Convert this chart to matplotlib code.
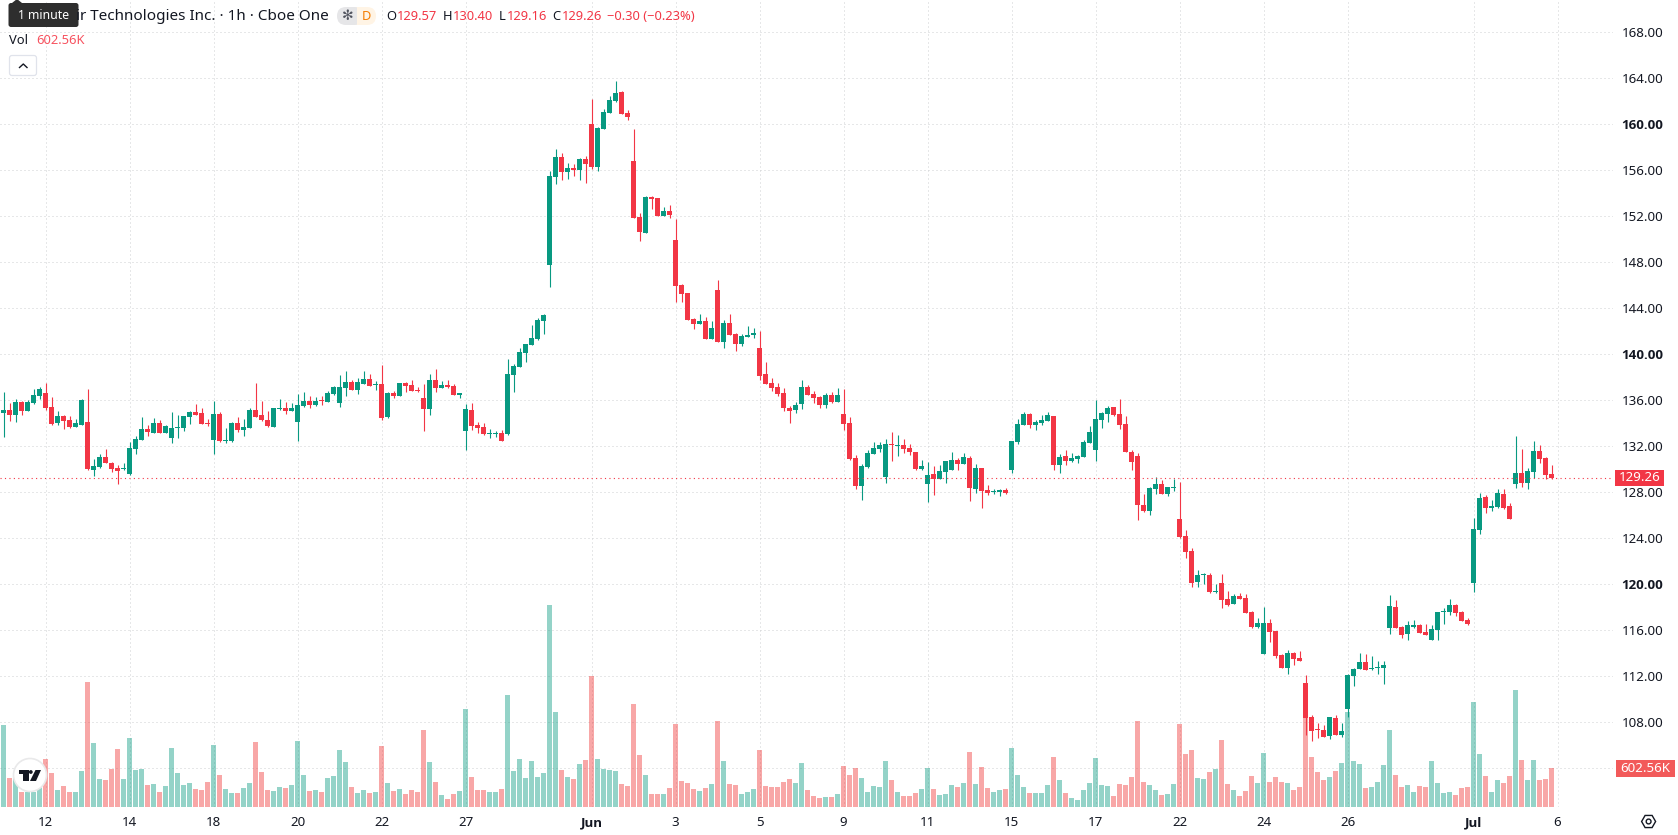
import numpy as np
import matplotlib
matplotlib.use("Agg")
import matplotlib.pyplot as plt
from matplotlib.patches import Circle, FancyBboxPatch, Polygon, Rectangle

open_prices = [
    134.90,135.16,134.73,135.86,135.07,135.77,136.38,136.64,135.42,134.03,
    134.64,134.29,133.68,133.86,134.12,129.94,130.20,131.07,130.55,130.12,
    130.00,129.60,131.77,132.55,133.51,133.16,134.03,133.16,132.73,133.62,
    133.60,134.55,134.99,134.90,134.03,132.55,134.81,132.50,132.47,134.03,
    133.42,133.60,135.16,134.73,134.29,133.68,135.25,135.34,135.07,134.12,
    135.51,135.94,135.60,136.03,135.86,136.55,135.77,137.08,137.60,136.90,
    137.42,137.86,137.36,137.42,134.55,136.64,136.38,137.51,137.34,136.90,
    136.20,135.25,137.77,137.08,137.34,137.25,136.47,133.33,135.16,133.86,
    133.68,133.10,133.10,133.16,133.07,138.20,138.90,140.12,140.81,141.34,
    142.90,147.77,155.42,157.16,155.86,156.21,156.03,156.99,160.03,156.29,
    159.60,160.99,162.03,162.82,160.99,156.82,151.95,150.55,153.68,153.60,
    152.03,152.47,149.95,146.03,145.34,143.07,142.64,142.90,141.34,145.60,
    141.07,142.73,141.77,140.90,141.51,141.72,140.55,138.29,137.51,137.16,
    136.64,135.33,135.16,135.68,137.16,136.55,136.29,135.60,136.46,135.86,
    134.81,134.03,130.99,128.55,130.20,131.33,131.77,129.33,132.20,132.03,
    132.12,131.86,131.51,130.03,128.73,129.59,129.16,129.77,129.94,130.81,
    130.47,130.99,128.29,130.12,128.20,128.04,128.03,128.20,129.94,132.38,
    133.86,134.81,133.86,134.03,134.20,134.64,130.38,131.16,130.73,130.90,
    131.07,132.29,131.68,134.29,134.81,135.42,134.81,133.94,131.51,131.16,
    126.90,126.38,128.29,128.73,127.86,128.40,125.68,124.20,122.90,120.20,
    120.78,120.81,119.33,120.11,118.72,118.29,118.98,118.81,117.59,116.29,
    113.94,116.64,115.94,113.85,112.72,114.03,113.59,111.42,108.46,107.35,
    107.33,106.81,108.37,106.90,109.16,112.03,112.63,113.24,112.63,112.72,
    112.72,116.20,118.03,116.29,115.68,116.33,116.46,115.85,115.16,116.03,
    117.62,117.59,118.20,117.59,116.90,120.11,124.72,127.59,126.64,126.72,
    127.85,126.81,128.72,129.68,128.81,129.77,131.59,130.98,129.57,
]
close_prices = [
    135.16,134.73,135.86,135.07,135.86,136.47,136.99,135.34,133.94,134.64,
    134.20,133.68,134.03,136.03,130.03,130.29,131.07,130.55,130.03,129.86,
    130.03,131.86,132.64,133.51,133.25,134.03,133.16,133.77,133.60,133.68,
    134.64,134.99,134.73,133.94,133.97,134.81,132.47,132.55,134.03,133.42,
    133.68,135.16,134.55,134.29,133.77,135.34,135.31,135.07,135.34,135.60,
    135.94,135.60,135.94,135.97,136.64,137.16,137.16,137.60,136.90,137.60,
    137.86,137.25,137.42,134.47,136.64,136.38,137.51,137.25,136.81,136.84,
    135.25,137.77,137.08,137.34,137.16,136.47,136.64,135.25,133.77,133.60,
    133.07,133.16,133.16,132.47,138.29,138.99,140.20,140.90,141.42,142.99,
    143.42,155.51,157.16,155.86,156.21,156.03,156.99,156.55,156.29,159.69,
    161.08,162.12,162.73,160.90,160.64,151.86,150.64,153.68,153.51,152.03,
    152.47,152.12,145.94,145.25,142.99,142.64,142.90,141.34,142.29,141.07,
    142.73,141.68,140.90,141.60,141.68,141.78,138.12,137.42,137.07,136.55,
    135.33,135.07,135.60,137.16,136.46,136.20,135.60,136.46,135.86,136.46,
    133.94,130.90,128.55,130.29,131.42,131.86,132.12,132.20,132.14,132.09,
    131.77,131.51,130.03,130.29,129.51,129.16,129.86,130.73,130.81,130.47,
    131.07,128.38,130.12,128.12,127.94,128.10,128.20,127.94,132.46,133.94,
    134.81,133.86,134.12,134.29,134.73,130.38,131.07,130.73,130.99,131.16,
    132.38,133.25,134.38,134.90,135.33,134.73,133.86,131.51,130.64,126.90,
    126.38,128.38,128.73,127.86,128.46,128.46,124.12,122.81,120.11,120.81,
    120.84,119.33,119.39,118.64,118.20,118.98,118.72,117.51,116.29,116.64,
    116.64,115.85,113.77,112.72,114.03,113.50,113.33,108.37,107.24,107.29,
    106.72,108.46,106.90,107.24,112.11,112.63,113.24,112.55,112.69,112.78,
    112.98,118.11,116.20,115.59,116.46,116.41,115.76,115.59,116.11,117.59,
    117.68,118.20,117.50,116.81,116.55,124.81,127.51,126.64,126.81,127.94,
    126.64,125.68,129.68,128.81,129.85,131.59,130.90,129.51,129.26,
]
high_prices = [
    136.73,135.77,136.12,135.94,136.03,136.99,137.16,137.51,136.29,135.07,
    134.73,134.64,134.38,136.12,136.99,130.90,131.33,131.77,130.64,130.38,
    130.55,132.38,132.90,134.55,133.86,134.47,134.29,133.86,134.99,134.73,
    134.64,135.07,135.68,135.34,134.38,135.94,134.99,133.60,134.12,134.55,
    134.38,135.34,137.51,135.94,135.07,135.34,136.12,135.86,135.77,136.55,
    136.73,136.38,136.29,136.38,136.81,137.25,138.21,138.55,137.77,137.94,
    138.55,138.29,137.68,139.08,136.73,136.81,137.51,137.60,137.77,137.16,
    137.42,138.29,138.73,137.68,137.77,137.42,136.64,135.68,135.77,134.12,
    134.03,133.51,133.33,133.42,139.60,139.16,140.55,140.90,142.55,143.16,
    143.51,155.95,157.86,157.51,156.64,156.55,157.08,157.25,162.21,159.77,
    161.34,162.47,163.77,162.90,161.25,159.60,152.29,153.77,153.77,153.60,
    152.82,152.99,151.77,146.12,145.34,143.16,143.51,143.25,142.90,146.47,
    142.99,143.51,141.86,141.77,142.47,142.29,142.03,139.33,137.94,137.51,
    137.07,135.51,135.86,137.77,137.33,136.81,136.38,136.64,136.73,137.07,
    136.99,134.55,131.25,130.47,131.68,132.38,132.38,132.64,133.25,132.99,
    132.64,132.20,131.51,130.81,130.64,130.29,130.38,130.73,131.51,130.99,
    131.42,131.16,130.47,130.12,128.64,128.29,128.29,128.38,132.46,134.38,
    134.99,134.90,134.29,134.73,134.99,134.64,131.33,131.68,131.42,131.25,
    132.55,133.77,136.03,134.99,135.51,135.42,136.12,134.64,131.68,131.42,
    127.86,128.46,129.33,129.07,128.46,129.16,128.90,124.72,123.16,121.25,
    120.98,120.98,120.03,120.90,119.42,119.16,119.24,119.16,117.68,117.07,
    118.03,116.98,115.94,113.94,114.29,114.11,114.20,112.11,108.63,107.94,
    107.76,108.46,108.63,107.94,112.20,112.72,114.03,113.94,113.77,113.33,
    113.33,119.07,118.64,116.37,116.81,116.90,116.55,116.55,116.46,117.59,
    117.94,118.72,118.29,117.68,117.07,125.77,127.94,127.77,127.33,128.29,
    128.29,127.07,132.90,131.77,130.11,132.46,132.11,131.07,130.40,
]
low_prices = [
    132.81,134.20,134.12,134.73,135.07,135.68,136.12,135.16,133.86,133.86,
    133.51,133.60,133.68,133.86,129.94,129.42,130.12,130.55,129.77,128.73,
    129.94,129.51,131.33,132.55,132.90,133.16,133.16,133.16,132.29,132.73,
    133.33,133.94,134.73,133.94,133.77,131.33,132.38,132.29,132.38,133.25,
    132.90,133.60,134.55,134.20,133.68,133.68,135.16,134.81,135.07,132.47,
    135.42,135.34,135.51,135.60,135.86,136.47,135.42,136.38,136.90,136.55,
    137.42,137.25,136.90,134.29,134.47,136.20,136.38,136.73,136.81,136.73,
    133.33,134.73,136.73,137.08,137.08,136.42,136.20,131.68,133.42,133.16,
    132.99,132.73,132.81,132.47,132.99,136.73,138.90,139.33,140.81,141.25,
    141.77,145.86,154.81,155.16,155.25,155.51,155.16,154.90,156.12,155.95,
    159.60,160.99,161.95,160.90,160.38,151.86,149.86,150.55,152.64,152.03,
    152.03,151.86,144.55,144.55,142.99,142.20,142.64,141.34,141.34,141.07,
    140.55,141.68,140.29,140.73,141.51,141.42,137.77,137.42,136.81,136.38,
    135.07,134.03,134.90,135.25,136.46,135.77,135.33,135.33,135.77,135.86,
    133.42,130.81,128.29,127.33,130.12,131.33,131.51,128.81,130.73,131.16,
    131.42,131.25,129.94,129.94,127.16,127.77,129.16,128.81,129.94,129.94,
    130.47,127.25,127.94,126.64,127.77,127.86,127.68,127.86,129.68,132.20,
    133.86,133.60,133.42,133.86,134.20,129.94,129.68,130.38,130.64,130.55,
    131.07,132.29,130.73,133.60,134.12,134.64,133.51,131.51,129.94,125.59,
    126.29,126.03,127.86,127.86,127.68,128.12,124.03,122.29,119.77,119.77,
    120.03,119.24,119.24,117.94,118.11,118.29,118.72,117.51,116.20,116.20,
    113.94,114.98,113.59,112.72,112.20,112.98,113.33,106.90,106.37,106.63,
    106.72,106.55,106.90,106.72,108.46,111.16,112.63,112.55,112.55,112.20,
    111.33,115.68,116.20,115.33,115.16,116.20,115.76,115.59,115.16,115.16,
    116.55,117.33,117.24,116.81,116.46,119.33,124.37,126.20,126.37,126.64,
    126.55,125.68,128.37,128.46,128.29,129.25,130.55,129.16,129.16,
]
volumes_k = [
    1278,452,447,234,234,234,343,748,530,265,
    327,234,234,561,1948,997,436,421,592,904,
    436,1075,577,592,343,358,234,327,919,530,
    343,374,280,265,390,966,499,280,218,218,
    296,374,1013,545,265,249,312,296,343,1028,
    499,249,265,234,452,483,888,701,312,218,
    265,218,234,950,374,249,280,203,265,234,
    1200,701,390,187,125,203,249,1527,467,265,
    265,234,234,280,1745,561,748,452,717,467,
    530,3147,1480,577,467,436,670,732,2041,748,
    592,577,561,358,327,1605,810,499,203,203,
    203,296,1293,405,374,280,249,296,358,1340,
    717,358,343,203,234,280,888,327,312,312,
    390,436,374,686,265,171,140,156,156,203,
    639,499,608,452,234,327,312,717,421,234,
    171,171,218,280,608,280,187,203,343,312,
    374,857,358,623,296,234,265,280,919,499,
    312,218,218,218,343,779,421,218,140,109,
    265,374,763,343,327,171,358,343,467,1340,
    384,338,260,182,197,353,1288,821,883,447,
    431,540,587,1039,353,260,166,244,478,369,
    836,384,462,384,369,260,306,1382,774,540,
    416,462,556,680,1475,712,665,291,306,384,
    649,1195,493,306,338,229,322,306,712,369,
    213,229,182,291,306,1631,821,478,229,416,
    369,478,1818,727,416,727,416,431,602.56,
]

price_ticks = [108, 112, 116, 120, 124, 128, 132, 136, 140, 144, 148, 152, 156, 160, 164, 168]
major_price_ticks = [120, 140, 160]
unlabelled_price_ticks = [104]
date_positions = [7, 21, 35, 49, 63, 77, 98, 112, 126, 140, 154, 168, 182, 196, 210, 224, 245, 259]
date_labels = ["12", "14", "18", "20", "22", "27", "Jun", "3", "5", "9", "11", "15", "17", "22", "24", "26", "Jul", "6"]
bold_dates = ["Jun", "Jul"]
last_price = 129.26
last_volume_label = "602.56K"

UP = "#089981"
DOWN = "#F23645"
VOL_UP = (8/255, 153/255, 129/255, 0.43)
VOL_DOWN = (240/255, 52/255, 52/255, 0.43)
GRID = "#CFD0D3"
INK = "#131722"
FONT = ["Noto Sans", "DejaVu Sans"]
BOLD_FONT = ["Open Sans", "DejaVu Sans"]
plt.rcParams["font.family"] = FONT

W, H = 1678, 835
fig = plt.figure(figsize=(W / 100, H / 100), dpi=100, facecolor="white")
pane_right, pane_bottom = 1613, 807
rect = [0, 1 - pane_bottom / H, pane_right / W, pane_bottom / H]

xlim = (-3.5 / 6, (pane_right - 3.5) / 6)
ylim = (132 + (446.3 - pane_bottom) / 11.5, 132 + 446.3 / 11.5)

# Base layer: grid and axis labels
ax_base = fig.add_axes(rect, zorder=1)
ax_base.set_xlim(xlim)
ax_base.set_ylim(ylim)
for s in ax_base.spines.values():
    s.set_visible(False)
ax_base.yaxis.tick_right()
ax_base.set_yticks(price_ticks + unlabelled_price_ticks)
ax_base.set_yticklabels([f"{t:.2f}" for t in price_ticks] + [""] * len(unlabelled_price_ticks))
ax_base.set_xticks(date_positions)
ax_base.set_xticklabels(date_labels)
ax_base.tick_params(axis="both", length=0, labelsize=9.6, labelcolor=INK)
ax_base.tick_params(axis="x", pad=6.5)
ax_base.tick_params(axis="y", pad=6)
for lab, t in zip(ax_base.get_yticklabels(), price_ticks):
    if t in major_price_ticks:
        lab.set_family(BOLD_FONT)
        lab.set_fontweight("bold")
for lab in ax_base.get_xticklabels():
    if lab.get_text() in bold_dates:
        lab.set_family(BOLD_FONT)
        lab.set_fontweight("bold")
ax_base.grid(True, color=GRID, lw=0.72, linestyle=(0, (1, 3)))
ax_base.set_axisbelow(True)

# Volume pane, anchored at the pane bottom
opens = np.array(open_prices)
closes = np.array(close_prices)
highs = np.array(high_prices)
lows = np.array(low_prices)
vols = np.array(volumes_k, dtype=float)
idx = np.arange(len(opens))
rising = closes >= opens

ax_vol = fig.add_axes(rect, zorder=2, facecolor="none")
ax_vol.set_xlim(xlim)
ax_vol.set_ylim(0, pane_bottom * 602.56 / 38.7)
ax_vol.axis("off")
ax_vol.bar(idx, vols, width=5 / 6, linewidth=0,
           color=[VOL_UP if r else VOL_DOWN for r in rising])

# Candles
ax_price = fig.add_axes(rect, zorder=3, facecolor="none")
ax_price.set_xlim(xlim)
ax_price.set_ylim(ylim)
ax_price.axis("off")
colors = [UP if r else DOWN for r in rising]
wicks = ax_price.vlines(idx, lows, highs, colors=colors, linewidth=0.8)
wicks.set_snap(True)
body_low = np.minimum(opens, closes)
body_height = np.maximum(np.abs(closes - opens), 0.09)
ax_price.bar(idx, body_height, bottom=body_low, width=5 / 6, linewidth=0, color=colors)
ax_price.axhline(last_price, color=DOWN, lw=0.8, linestyle=(0, (1, 3)))

# Overlay in pixel units: legend strip, axis badges and small widgets
ov = fig.add_axes([0, 0, 1, 1], zorder=4, facecolor="none")
ov.set_xlim(0, W)
ov.set_ylim(H, 0)
ov.axis("off")

TEXT_Y = 16.3
ov.text(76, TEXT_Y, "ir Technologies Inc. · 1h · Cboe One", fontsize=11.0, color=INK, va="center", ha="left")

ov.add_patch(FancyBboxPatch((340, 7), 36, 18, boxstyle="round,pad=0,rounding_size=9",
                            fc="#FFF4E5", ec="none"))
ov.add_patch(FancyBboxPatch((337, 7), 26, 18, boxstyle="round,pad=0,rounding_size=9",
                            fc="#E6E6E8", ec="none"))
ov.add_patch(Rectangle((357, 7), 8, 18, fc="#FFF4E5", ec="none"))
ov.text(348, 16, "✻", fontsize=10, color="#50535E", ha="center", va="center",
        family=["DejaVu Sans"])
ov.text(366.5, 16, "D", fontsize=9.2, color="#F57C00", ha="center", va="center")

red_text = "#F23645"
ohlc_parts = [(386, "O", INK), (397, "129.57", red_text), (443, "H", INK), (453, "130.40", red_text),
              (499, "L", INK), (507, "129.16", red_text), (552, "C", INK), (562, "129.26", red_text),
              (607, "−0.30 (−0.23%)", red_text)]
for x, s, c in ohlc_parts:
    ov.text(x, TEXT_Y, s, fontsize=9.3, color=c, ha="left", va="center")

ov.text(9, 40.5, "Vol", fontsize=9.3, color=INK, ha="left", va="center")
ov.text(36, 40.5, "602.56K", fontsize=9.3, color="#F7525F", ha="left", va="center")

ov.add_patch(FancyBboxPatch((9.5, 55.5), 27, 20, boxstyle="round,pad=0,rounding_size=2.5",
                            fc="white", ec="#E0E3EB", lw=0.9))
ov.plot([19.5, 23.3, 27], [67.5, 64, 67.5], color=INK, lw=1.0)

# Tooltip with its pointer
ov.add_patch(FancyBboxPatch((8.5, 3), 70, 24, boxstyle="round,pad=0,rounding_size=2.5",
                            fc="#2E2E2E", ec="none"))
ov.add_patch(Polygon([[12, 3], [17, -1], [22, 3]], closed=True, fc="#2E2E2E", ec="none"))
ov.text(43.5, 15.5, "1 minute", fontsize=8.8, color="white", ha="center", va="center")

# Last-price and last-volume badges
price_y = 446.3 + (132 - last_price) * 11.5
ov.add_patch(Rectangle((1615, price_y - 8), 49, 16, fc=DOWN, ec="none"))
ov.text(1640, price_y, f"{last_price:.2f}", fontsize=9.6, color="white", ha="center", va="center")
ov.add_patch(Rectangle((1616, 760), 59, 16.5, fc="#F25A5A", ec="none"))
ov.text(1645.5, 768.3, last_volume_label, fontsize=9.6, color="white", ha="center", va="center")

# Brand badge
ov.add_patch(Circle((30, 775), 16.5, fc="white", ec="#E9E9EA", lw=1.2))
ov.add_patch(Polygon([[18.5, 770], [28.5, 770], [28.5, 781], [22.5, 781], [22.5, 773.5], [18.5, 773.5]],
                     closed=True, fc="#131722", ec="none"))
ov.add_patch(Circle((30.8, 772), 1.9, fc="#131722", ec="none"))
ov.add_patch(Polygon([[35.5, 770], [41, 770], [36, 781], [30, 781]], closed=True, fc="#131722", ec="none"))

# Settings hexagon
theta = np.deg2rad(np.arange(0, 360, 60))
ov.add_patch(Polygon(np.c_[1648.6 + 7 * np.cos(theta), 821.5 + 7 * np.sin(theta)], closed=True,
                     fc="none", ec=INK, lw=1.0))
ov.add_patch(Circle((1648.6, 821.5), 2.4, fc="none", ec=INK, lw=1.0))

fig.savefig("out.png", dpi=100)
